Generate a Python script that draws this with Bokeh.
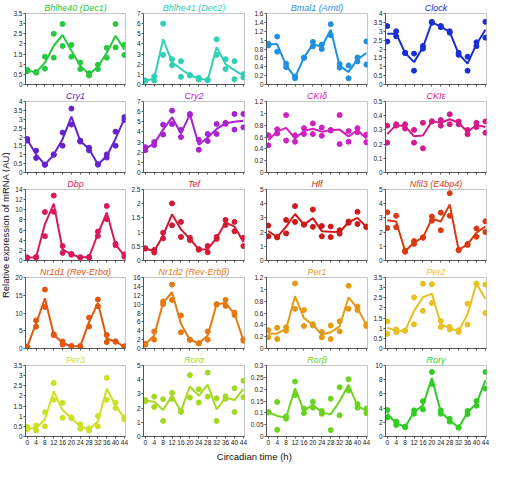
import math
from bokeh.plotting import figure
from bokeh.layouts import gridplot, row, column
from bokeh.models import Range1d, FixedTicker, CustomJSTickFormatter, Label
from bokeh.embed import file_html
from bokeh.resources import INLINE

times = [0, 4, 8, 12, 16, 20, 24, 28, 32, 36, 40, 44]

genes = ["Bhlhe40 (Dec1)", "Bhlhe41 (Dec2)", "Bmal1 (Arntl)", "Clock",
         "Cry1", "Cry2", "CKIδ", "CKIε",
         "Dbp", "Tef", "Hlf", "Nfil3 (E4bp4)",
         "Nr1d1 (Rev-Erbα)", "Nr1d2 (Rev-Erbβ)", "Per1", "Per2",
         "Per3", "Rorα", "Rorβ", "Rorγ"]

colors = ["#27c93f", "#2fd0b4", "#1f8fe0", "#1a2fd0",
          "#6622cc", "#a822d0", "#d020c0", "#d41a8a",
          "#d81a5c", "#d21a36", "#d01818", "#da3a12",
          "#e2560e", "#e47a10", "#e49a14", "#e8c020",
          "#cde022", "#a6d822", "#6cd420", "#30cc22"]

ymax = [3.5, 7, 1.6, 4, 4, 7, 1.2, 0.5, 14, 2.5, 5, 5, 20, 16, 1.2, 3.5, 3.5, 5, 0.3, 10]
ystep = [0.5, 1, 0.2, 0.5, 0.5, 1, 0.2, 0.1, 2, 0.5, 1, 1, 5, 2, 0.2, 0.5, 0.5, 1, 0.05, 2]

bhlhe40_a = [0.72, 0.62, 1.37, 2.50, 2.98, 1.95, 1.08, 0.56, 0.97, 1.81, 2.98, 1.96]
bhlhe40_b = [0.66, 0.58, 0.78, 1.32, 1.90, 1.37, 0.76, 0.44, 0.76, 1.32, 1.83, 1.46]
bhlhe41_a = [0.40, 0.80, 6.00, 2.50, 2.30, 0.94, 0.67, 0.46, 4.45, 2.50, 2.30, 1.03]
bhlhe41_b = [0.35, 0.40, 2.92, 1.89, 0.76, 0.88, 0.49, 0.43, 2.92, 1.52, 0.52, 0.70]
bmal1_a = [0.92, 1.08, 0.47, 0.18, 0.61, 0.96, 0.90, 1.36, 0.46, 0.43, 0.61, 0.97]
bmal1_b = [0.88, 0.74, 0.39, 0.14, 0.60, 0.86, 0.80, 1.11, 0.38, 0.14, 0.52, 0.45]
clock_a = [3.29, 3.00, 1.79, 1.74, 2.17, 3.53, 3.30, 3.00, 1.79, 1.57, 2.38, 3.53]
clock_b = [2.42, 2.72, 1.77, 0.78, 2.02, 3.48, 3.23, 2.92, 1.67, 0.78, 2.16, 2.64]
cry1_a = [1.89, 1.23, 0.45, 1.02, 2.25, 3.60, 1.80, 1.40, 0.47, 1.02, 2.30, 3.12]
cry1_b = [1.80, 0.82, 0.43, 1.00, 1.51, 2.70, 1.74, 1.25, 0.44, 0.84, 1.51, 2.96]
cry2_a = [2.50, 3.00, 4.72, 6.10, 4.20, 5.77, 3.22, 3.80, 4.79, 4.90, 5.77, 5.77]
cry2_b = [2.20, 2.70, 3.74, 4.78, 3.50, 5.70, 2.24, 3.10, 3.80, 4.80, 4.23, 4.45]
ckid_a = [0.63, 0.73, 0.97, 0.63, 0.75, 0.83, 0.76, 0.72, 0.97, 0.70, 0.75, 0.64]
ckid_b = [0.46, 0.66, 0.54, 0.52, 0.65, 0.65, 0.62, 0.71, 0.48, 0.52, 0.68, 0.51]
ckie_a = [0.33, 0.34, 0.34, 0.30, 0.35, 0.36, 0.37, 0.41, 0.36, 0.30, 0.35, 0.36]
ckie_b = [0.21, 0.33, 0.31, 0.21, 0.17, 0.36, 0.33, 0.34, 0.34, 0.27, 0.32, 0.28]
dbp_a = [0.60, 0.60, 9.55, 12.80, 2.86, 1.30, 0.65, 0.70, 5.70, 10.75, 3.30, 1.20]
dbp_b = [0.55, 0.70, 4.80, 9.60, 1.50, 1.15, 0.60, 0.60, 4.85, 8.15, 3.00, 0.75]
tef_a = [0.43, 0.37, 0.98, 2.01, 1.36, 0.80, 0.40, 0.51, 0.83, 1.43, 1.36, 0.80]
tef_b = [0.42, 0.28, 0.78, 1.24, 0.83, 0.72, 0.38, 0.29, 0.76, 1.25, 1.03, 0.51]
hlf_a = [2.46, 1.65, 2.85, 3.83, 2.54, 3.59, 2.43, 2.39, 2.13, 2.74, 3.43, 2.39]
hlf_b = [1.70, 1.63, 1.91, 2.72, 2.52, 2.37, 1.70, 1.65, 1.89, 2.65, 2.57, 2.35]
nfil3_a = [3.39, 3.15, 0.70, 1.37, 1.63, 3.09, 3.37, 4.74, 0.76, 1.17, 2.26, 2.76]
nfil3_b = [2.28, 2.35, 0.61, 1.17, 1.60, 2.80, 2.13, 3.15, 0.72, 1.10, 1.67, 2.00]
nr1d1_a = [0.50, 7.90, 16.60, 4.00, 2.00, 0.70, 0.60, 8.70, 13.80, 3.80, 2.00, 0.60]
nr1d1_b = [0.55, 6.20, 11.70, 3.80, 1.10, 0.60, 0.70, 6.20, 11.90, 1.80, 1.90, 0.50]
nr1d2_a = [1.05, 3.85, 10.60, 14.40, 7.45, 2.00, 1.20, 3.85, 9.90, 10.95, 8.10, 2.05]
nr1d2_b = [0.85, 2.00, 10.00, 10.95, 3.65, 1.95, 1.15, 2.00, 10.00, 9.60, 7.55, 1.75]
per1_a = [0.31, 0.35, 0.36, 1.10, 0.65, 0.41, 0.28, 0.39, 0.46, 1.06, 0.71, 0.41]
per1_b = [0.19, 0.16, 0.30, 0.67, 0.38, 0.39, 0.19, 0.16, 0.29, 0.67, 0.65, 0.38]
per2_a = [1.34, 0.94, 0.88, 2.52, 3.19, 3.17, 1.35, 1.06, 0.90, 2.21, 3.20, 3.15]
per2_b = [0.72, 0.80, 0.88, 1.19, 1.86, 2.24, 1.06, 0.94, 0.81, 1.18, 3.18, 1.75]
per3_a = [0.47, 0.54, 1.20, 2.64, 1.66, 0.94, 0.60, 0.40, 1.01, 2.89, 1.66, 0.94]
per3_b = [0.35, 0.30, 0.50, 1.81, 0.92, 0.90, 0.38, 0.30, 0.50, 1.81, 1.40, 0.85]
rora_a = [2.57, 2.81, 2.63, 3.07, 1.82, 4.32, 3.33, 4.50, 2.70, 2.83, 3.40, 3.93]
rora_b = [2.48, 2.08, 1.10, 2.65, 1.73, 2.74, 2.39, 2.81, 1.10, 2.65, 1.73, 2.76]
rorb_a = [0.104, 0.146, 0.085, 0.232, 0.118, 0.147, 0.108, 0.160, 0.208, 0.242, 0.137, 0.118]
rorb_b = [0.101, 0.028, 0.075, 0.175, 0.099, 0.122, 0.096, 0.027, 0.090, 0.195, 0.122, 0.099]
rorg_a = [3.73, 2.10, 1.40, 3.68, 4.96, 9.08, 3.68, 2.50, 1.27, 3.60, 5.00, 9.08]
rorg_b = [2.67, 1.62, 1.30, 3.20, 3.82, 7.40, 3.20, 2.10, 1.25, 3.16, 4.34, 6.75]

rep_a = [bhlhe40_a, bhlhe41_a, bmal1_a, clock_a, cry1_a, cry2_a, ckid_a, ckie_a,
         dbp_a, tef_a, hlf_a, nfil3_a, nr1d1_a, nr1d2_a, per1_a, per2_a,
         per3_a, rora_a, rorb_a, rorg_a]
rep_b = [bhlhe40_b, bhlhe41_b, bmal1_b, clock_b, cry1_b, cry2_b, ckid_b, ckie_b,
         dbp_b, tef_b, hlf_b, nfil3_b, nr1d1_b, nr1d2_b, per1_b, per2_b,
         per3_b, rora_b, rorb_b, rorg_b]

FONT = "Liberation Sans"
FW, FH = 103, 72
col_left = [12, 13, 17, 13]
BR, BT = 3, 12
AX = "#555555"

fmt = CustomJSTickFormatter(code="return String(Math.round(tick*1000)/1000);")

grid = []
for i, g in enumerate(genes):
    r, c = divmod(i, 4)
    last = (r == 4)
    bb = 13 if last else 4
    bl = col_left[c]
    p = figure(width=bl + FW + BR, height=BT + FH + bb,
               x_range=Range1d(-0.8, 44.5), y_range=Range1d(0, ymax[i]),
               output_backend="svg", toolbar_location=None,
               min_border_left=bl, min_border_right=BR,
               min_border_top=BT, min_border_bottom=bb, title=g)
    p.title.text_font = FONT
    p.title.text_font_size = "9px"
    p.title.text_font_style = "italic"
    p.title.text_color = colors[i]
    p.title.align = "center"
    p.title.standoff = 1
    p.title.offset = 0
    nt = int(round(ymax[i] / ystep[i]))
    yt = [round(k * ystep[i], 4) for k in range(nt + 1)]
    p.xaxis.ticker = FixedTicker(ticks=times)
    p.yaxis.ticker = FixedTicker(ticks=yt)
    p.yaxis.formatter = fmt
    for ax in (p.xaxis[0], p.yaxis[0]):
        ax.axis_line_color = AX
        ax.major_tick_line_color = AX
        ax.major_tick_out = 2
        ax.major_tick_in = 0
        ax.minor_tick_line_color = None
        ax.major_label_text_font = FONT
        ax.major_label_text_font_size = "6.5px"
        ax.major_label_text_color = "#222222"
        ax.major_label_standoff = 1
    if not last:
        p.xaxis.major_label_text_font_size = "0px"
        p.xaxis.major_label_text_color = None
        p.xaxis.major_label_standoff = 0
    p.grid.visible = False
    p.outline_line_color = "#c4c4c4"
    mean = [(a + b) / 2 for a, b in zip(rep_a[i], rep_b[i])]
    p.line(times, mean, line_color=colors[i], line_width=2)
    p.scatter(times, rep_a[i], size=5, fill_color=colors[i], line_color=colors[i])
    p.scatter(times, rep_b[i], size=5, fill_color=colors[i], line_color=colors[i])
    if c == 0:
        grid.append([])
    grid[-1].append(p)

gp = gridplot(grid, toolbar_location=None)

grid_h = 4 * (BT + FH + 4) + (BT + FH + 13)
grid_w = sum(col_left) + 4 * (FW + BR)

ylab = figure(width=10, height=grid_h, x_range=Range1d(0, 1), y_range=Range1d(0, 1),
              output_backend="svg", toolbar_location=None,
              min_border_left=0, min_border_right=0, min_border_top=0, min_border_bottom=0)
ylab.axis.visible = False
ylab.grid.visible = False
ylab.outline_line_color = None
ylab.add_layout(Label(x=0.5, y=0.5, text="Relative expression of mRNA (AU)", angle=math.pi / 2,
                      text_align="center", text_baseline="middle", text_font=FONT,
                      text_font_size="9.5px", text_color="#111111"))

xlab = figure(width=grid_w, height=13, x_range=Range1d(0, 1), y_range=Range1d(0, 1),
              output_backend="svg", toolbar_location=None,
              min_border_left=0, min_border_right=0, min_border_top=0, min_border_bottom=0)
xlab.axis.visible = False
xlab.grid.visible = False
xlab.outline_line_color = None
xlab.add_layout(Label(x=0.509, y=0.5, text="Circadian time (h)",
                      text_align="center", text_baseline="middle", text_font=FONT,
                      text_font_size="9.5px", text_color="#111111"))

layout = row(ylab, column(gp, xlab))

open("out.html", "w").write(file_html(layout, INLINE))
